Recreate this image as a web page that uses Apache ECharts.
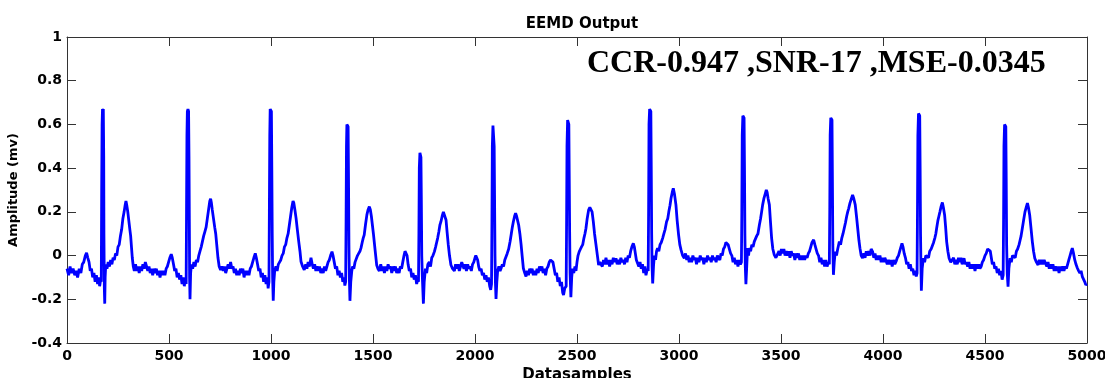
<!DOCTYPE html>
<html>
<head>
<meta charset="utf-8">
<script src="https://cdn.jsdelivr.net/npm/echarts@6/dist/echarts.min.js"></script>
<style>
html,body{margin:0;padding:0;background:#fff;}
#chart{width:1105px;height:378px;}
</style>
</head>
<body>
<div id="chart"></div>
<script>
// ---- Data (x = data sample index, y = amplitude in mV) ----
const chartTitle = "EEMD Output";
const xAxisName = "Datasamples";
const yAxisName = "Amplitude (mv)";
const annotation = "CCR-0.947 ,SNR-17 ,MSE-0.0345";
const xTicks = [0, 500, 1000, 1500, 2000, 2500, 3000, 3500, 4000, 4500, 5000];
const yTicks = [-0.4, -0.2, 0, 0.2, 0.4, 0.6, 0.8, 1];

const beat01 = [[0,-0.06],[8,-0.09],[15,-0.05],[22,-0.08],[30,-0.06],[38,-0.09],[45,-0.07],[52,-0.1],[60,-0.06],[68,-0.08],[75,-0.04],[82,-0.03],[90,0.0],[96,0.012],[102,-0.01],[108,-0.03],[114,-0.07],[120,-0.06],[126,-0.1],[132,-0.08],[138,-0.12],[144,-0.09],[150,-0.13],[156,-0.1],[160,-0.14],[165,-0.11],
[168,-0.12],[170,0.3],[172,0.6],[174,0.67],[176,0.66],[178,0.67],[180,0.45],[181,0.1],[183,-0.15],[185,-0.22],[187,-0.1],[190,-0.04],
[196,-0.06],[202,-0.03],[208,-0.05],[214,-0.02],[220,-0.04],[226,-0.01],[232,-0.02],[238,0.01],[244,0.0],[250,0.04],[256,0.05],[262,0.09],[268,0.12],[274,0.17],[280,0.2],[285,0.23],[289,0.25],[293,0.23],[298,0.2],[303,0.16],[308,0.12],[312,0.09],[316,0.04],[320,-0.01],[325,-0.05],[330,-0.07]];
const beat02 = [[336,-0.04],[342,-0.07],[348,-0.05],[354,-0.08],[360,-0.05],[366,-0.07],[372,-0.04],[378,-0.06],[384,-0.03],[390,-0.05],[396,-0.07],[402,-0.05],[408,-0.08],[414,-0.06],[420,-0.09],[426,-0.06],[432,-0.08],[438,-0.06],[444,-0.09],[450,-0.07],[456,-0.1],[462,-0.07],[468,-0.09],[474,-0.07],[480,-0.09],[486,-0.06],[492,-0.05],[498,-0.03],[504,-0.01],[511,0.006],[516,-0.01],[522,-0.04],[528,-0.07],[534,-0.06],[540,-0.1],[546,-0.08],[552,-0.11],[558,-0.09],[564,-0.13],[570,-0.1],[575,-0.14],[580,-0.11],[584,-0.13],
[586,0.2],[588,0.55],[590,0.66],[593,0.67],[596,0.66],[598,0.45],[600,0.1],[601,-0.1],[603,-0.2],[606,-0.08],[610,-0.04],
[616,-0.06],[622,-0.03],[628,-0.05],[634,-0.02],[640,-0.03],[646,0.0],[652,0.02],[658,0.04],[664,0.065],[670,0.09],[676,0.11],[682,0.13],[688,0.17],[694,0.21],[700,0.25],[704,0.26],[708,0.24],[712,0.21],[718,0.17],[724,0.13],[729,0.1],[734,0.05],[740,-0.01],[746,-0.05],[753,-0.066]];
const beat03 = [[760,-0.05],[766,-0.07],[772,-0.05],[778,-0.08],[784,-0.06],[790,-0.04],[796,-0.06],[802,-0.03],[808,-0.06],[814,-0.05],[820,-0.08],[826,-0.06],[832,-0.09],[838,-0.07],[844,-0.09],[850,-0.06],[856,-0.08],[862,-0.06],[868,-0.1],[874,-0.07],[880,-0.09],[886,-0.07],[892,-0.09],[898,-0.06],[904,-0.05],[910,-0.03],[916,-0.01],[923,0.01],[928,-0.01],[934,-0.04],[940,-0.07],[946,-0.06],[952,-0.1],[958,-0.08],[964,-0.12],[970,-0.09],[976,-0.13],[982,-0.1],[986,-0.15],[990,-0.12],
[992,0.2],[994,0.55],[996,0.67],[999,0.67],[1002,0.66],[1004,0.4],[1006,0.1],[1008,-0.1],[1011,-0.207],[1014,-0.12],[1018,-0.07],
[1024,-0.05],[1030,-0.07],[1036,-0.04],[1042,-0.03],[1048,-0.02],[1054,0.0],[1060,0.01],[1066,0.04],[1072,0.05],[1078,0.08],[1084,0.1],[1090,0.14],[1096,0.18],[1102,0.22],[1108,0.25],[1112,0.24],[1117,0.21],[1123,0.17],[1129,0.12],[1136,0.064],[1142,0.02],[1147,-0.027],[1155,-0.05],[1163,-0.066]];
const beat04 = [[1170,-0.04],[1176,-0.06],[1182,-0.03],[1188,-0.05],[1196,-0.01],[1202,-0.04],[1208,-0.06],[1214,-0.04],[1220,-0.07],[1226,-0.05],[1232,-0.07],[1238,-0.05],[1244,-0.08],[1250,-0.06],[1256,-0.08],[1262,-0.05],[1268,-0.07],[1274,-0.05],[1280,-0.03],[1286,-0.02],[1292,0.0],[1299,0.018],[1304,0.0],[1310,-0.03],[1316,-0.06],[1322,-0.05],[1328,-0.09],[1334,-0.07],[1340,-0.1],[1346,-0.08],[1352,-0.12],[1358,-0.1],[1362,-0.137],[1366,-0.12],
[1368,0.15],[1370,0.5],[1372,0.6],[1375,0.605],[1378,0.59],[1380,0.35],[1382,0.05],[1384,-0.1],[1387,-0.207],[1391,-0.12],[1396,-0.07],[1400,-0.05],
[1406,-0.06],[1412,-0.03],[1418,-0.03],[1424,0.0],[1430,0.01],[1436,0.02],[1441,0.034],[1447,0.06],[1452,0.08],[1457,0.095],[1463,0.14],[1470,0.186],[1476,0.21],[1482,0.224],[1487,0.21],[1492,0.18],[1497,0.14],[1502,0.1],[1506,0.064],[1512,0.01],[1518,-0.043],[1524,-0.06],[1531,-0.07]];
const beat05 = [[1538,-0.04],[1544,-0.07],[1550,-0.05],[1556,-0.08],[1562,-0.05],[1568,-0.07],[1574,-0.04],[1580,-0.06],[1586,-0.05],[1592,-0.08],[1598,-0.05],[1604,-0.07],[1610,-0.05],[1616,-0.08],[1622,-0.06],[1628,-0.08],[1634,-0.05],[1640,-0.06],[1646,-0.03],[1652,0.0],[1657,0.02],[1662,0.026],[1667,0.0],[1672,-0.04],[1678,-0.07],[1684,-0.06],[1690,-0.1],[1696,-0.08],[1702,-0.11],[1708,-0.09],[1714,-0.13],[1719,-0.11],[1723,-0.12],
[1725,0.1],[1727,0.4],[1730,0.47],[1733,0.476],[1735,0.45],[1737,0.25],[1739,0.0],[1742,-0.1],[1747,-0.22],[1751,-0.12],[1757,-0.06],
[1763,-0.08],[1769,-0.04],[1776,-0.03],[1782,-0.05],[1788,-0.01],[1794,0.0],[1801,0.018],[1807,0.04],[1812,0.06],[1817,0.08],[1823,0.11],[1828,0.14],[1833,0.155],[1839,0.18],[1845,0.2],[1851,0.2],[1858,0.163],[1863,0.11],[1869,0.05],[1875,0.0],[1882,-0.043],[1890,-0.06],[1899,-0.07]];
const beat06 = [[1905,-0.04],[1911,-0.06],[1917,-0.04],[1923,-0.07],[1929,-0.05],[1935,-0.03],[1940,-0.03],[1946,-0.06],[1952,-0.04],[1958,-0.07],[1964,-0.04],[1970,-0.06],[1976,-0.05],[1982,-0.07],[1988,-0.04],[1994,-0.03],[2000,-0.01],[2004,0.0],[2008,-0.005],[2013,-0.02],[2018,-0.05],[2024,-0.07],[2030,-0.06],[2036,-0.09],[2042,-0.08],[2048,-0.11],[2054,-0.09],[2060,-0.12],[2066,-0.1],[2072,-0.14],[2077,-0.157],[2081,-0.13],
[2083,0.15],[2085,0.5],[2088,0.595],[2091,0.59],[2094,0.5],[2096,0.25],[2098,0.0],[2100,-0.12],[2103,-0.198],[2107,-0.12],[2111,-0.07],
[2117,-0.05],[2123,-0.07],[2128,-0.058],[2134,-0.04],[2140,-0.05],[2146,-0.02],[2152,-0.012],[2158,0.01],[2165,0.03],[2172,0.064],[2178,0.1],[2183,0.13],[2188,0.155],[2194,0.18],[2199,0.194],[2204,0.18],[2209,0.16],[2214,0.14],[2220,0.1],[2226,0.05],[2231,0.0],[2237,-0.058],[2244,-0.08],[2250,-0.096]];
const beat07 = [[2256,-0.07],[2262,-0.09],[2268,-0.06],[2274,-0.08],[2280,-0.06],[2286,-0.09],[2292,-0.07],[2298,-0.09],[2304,-0.06],[2310,-0.08],[2316,-0.05],[2322,-0.07],[2328,-0.05],[2334,-0.08],[2340,-0.06],[2346,-0.09],[2352,-0.06],[2358,-0.05],[2364,-0.03],[2370,-0.02],[2376,-0.015],[2382,-0.03],[2388,-0.06],[2394,-0.09],[2400,-0.08],[2406,-0.12],[2412,-0.1],[2418,-0.14],[2424,-0.12],[2430,-0.17],[2434,-0.18],[2440,-0.15],[2447,-0.14],
[2449,0.15],[2451,0.5],[2454,0.62],[2457,0.624],[2460,0.6],[2462,0.35],[2464,0.1],[2466,-0.08],[2470,-0.19],[2474,-0.1],[2478,-0.06],
[2484,-0.08],[2490,-0.05],[2495,-0.07],[2500,-0.03],[2505,0.0],[2511,0.018],[2517,0.03],[2522,0.04],[2528,0.05],[2534,0.08],[2539,0.1],[2544,0.125],[2550,0.17],[2557,0.209],[2563,0.22],[2569,0.224],[2574,0.2],[2580,0.155],[2586,0.1],[2593,0.05],[2600,0.0],[2606,-0.043],[2612,-0.03],[2618,-0.027]];
const beat08 = [[2624,-0.05],[2630,-0.02],[2636,-0.04],[2642,-0.01],[2648,-0.04],[2654,-0.02],[2660,-0.05],[2666,-0.02],[2672,-0.04],[2678,-0.01],[2684,-0.03],[2691,-0.012],[2697,-0.04],[2703,-0.02],[2709,-0.04],[2715,-0.01],[2721,-0.03],[2727,-0.02],[2733,-0.04],[2739,-0.01],[2745,-0.03],[2751,0.0],[2757,-0.01],[2763,0.02],[2769,0.04],[2776,0.056],[2781,0.04],[2786,0.01],[2791,-0.02],[2797,-0.012],[2803,-0.05],[2809,-0.03],[2815,-0.06],[2821,-0.04],[2827,-0.08],[2833,-0.05],[2838,-0.09],[2845,-0.06],[2849,-0.07],
[2851,0.2],[2853,0.6],[2856,0.67],[2859,0.674],[2862,0.66],[2864,0.4],[2866,0.1],[2868,-0.05],[2871,-0.127],[2875,-0.05],[2879,0.0],
[2885,-0.02],[2890,0.02],[2895,0.034],[2901,0.02],[2907,0.05],[2913,0.06],[2920,0.08],[2926,0.1],[2932,0.12],[2939,0.155],[2945,0.17],[2950,0.2],[2956,0.23],[2961,0.262],[2967,0.29],[2972,0.308],[2978,0.28],[2985,0.232],[2991,0.16],[2998,0.095],[3004,0.05],[3010,0.026],[3018,0.0],[3026,-0.012]];
const beat09 = [[3032,0.01],[3038,-0.02],[3044,0.0],[3050,-0.03],[3056,-0.01],[3062,-0.03],[3068,0.0],[3074,-0.02],[3080,-0.01],[3086,-0.04],[3092,-0.01],[3098,-0.03],[3104,0.0],[3110,-0.02],[3116,-0.01],[3122,-0.04],[3128,-0.01],[3134,-0.03],[3140,0.0],[3146,-0.02],[3152,-0.01],[3158,-0.03],[3164,0.0],[3170,-0.02],[3176,-0.01],[3182,-0.03],[3188,0.0],[3194,-0.01],[3200,-0.02],[3206,0.01],[3212,0.0],[3218,0.03],[3224,0.04],[3230,0.06],[3235,0.067],[3241,0.05],[3247,0.03],[3253,0.01],[3259,0.0],[3265,-0.03],[3271,-0.01],[3277,-0.04],[3283,-0.02],[3289,-0.05],[3295,-0.02],[3301,-0.04],[3306,-0.03],
[3308,0.2],[3310,0.55],[3313,0.64],[3316,0.644],[3319,0.63],[3321,0.4],[3323,0.1],[3325,-0.05],[3328,-0.131],[3332,-0.05],[3336,0.034],
[3341,0.0],[3345,0.034],[3351,0.02],[3357,0.05],[3363,0.04],[3369,0.064],[3375,0.07],[3381,0.09],[3387,0.1],[3394,0.14],[3400,0.17],[3405,0.2],[3410,0.232],[3416,0.26],[3422,0.28],[3428,0.3],[3432,0.29],[3437,0.26],[3443,0.232],[3448,0.16],[3454,0.08],[3460,0.03],[3467,0.003],[3475,-0.01],[3484,-0.012]];
const beat10 = [[3490,0.02],[3496,0.0],[3502,0.03],[3508,0.01],[3514,0.03],[3520,0.0],[3526,0.02],[3532,0.0],[3538,0.02],[3544,-0.01],[3550,0.02],[3556,0.0],[3562,0.01],[3568,-0.02],[3574,0.01],[3580,-0.01],[3586,0.01],[3592,-0.02],[3598,0.0],[3604,-0.02],[3610,0.0],[3616,-0.02],[3622,0.0],[3628,-0.01],[3634,0.01],[3640,0.02],[3646,0.04],[3652,0.06],[3660,0.072],[3666,0.05],[3672,0.03],[3678,0.01],[3684,0.0],[3690,-0.03],[3696,-0.01],[3702,-0.04],[3708,-0.02],[3714,-0.05],[3720,-0.02],[3726,-0.05],[3732,-0.03],[3737,-0.04],
[3739,0.2],[3741,0.55],[3744,0.63],[3747,0.636],[3750,0.62],[3752,0.35],[3754,0.05],[3757,-0.088],[3761,-0.03],[3766,0.018],
[3772,0.0],[3778,0.03],[3786,0.064],[3792,0.05],[3798,0.08],[3804,0.1],[3810,0.125],[3816,0.15],[3822,0.18],[3827,0.2],[3832,0.216],[3838,0.24],[3845,0.26],[3851,0.277],[3857,0.26],[3864,0.232],[3870,0.18],[3876,0.125],[3882,0.07],[3887,0.034],[3893,0.0],[3900,-0.012]];
const beat11 = [[3906,0.01],[3912,-0.01],[3918,0.02],[3924,0.0],[3930,0.02],[3936,0.0],[3942,0.03],[3949,0.018],[3955,-0.01],[3961,0.01],[3967,-0.02],[3973,0.0],[3979,-0.02],[3985,0.0],[3991,-0.03],[3997,-0.01],[4003,-0.03],[4009,-0.01],[4015,-0.012],[4021,-0.04],[4027,-0.02],[4033,-0.04],[4039,-0.02],[4045,-0.05],[4051,-0.02],[4058,-0.04],[4064,-0.027],[4070,-0.01],[4076,0.0],[4082,0.02],[4088,0.04],[4093,0.056],[4098,0.04],[4104,0.01],[4110,-0.01],[4116,-0.04],[4122,-0.03],[4128,-0.06],[4134,-0.04],[4140,-0.07],[4146,-0.06],[4152,-0.09],[4158,-0.07],[4163,-0.096],[4167,-0.08],
[4169,0.2],[4171,0.55],[4174,0.65],[4177,0.651],[4180,0.64],[4182,0.4],[4184,0.1],[4186,-0.05],[4188,-0.161],[4192,-0.06],[4198,-0.012],
[4204,-0.03],[4210,0.0],[4217,0.003],[4223,-0.01],[4229,0.02],[4236,0.03],[4242,0.034],[4248,0.06],[4254,0.08],[4259,0.1],[4263,0.125],[4269,0.16],[4274,0.18],[4279,0.2],[4285,0.225],[4291,0.243],[4296,0.22],[4302,0.186],[4307,0.13],[4312,0.064],[4318,0.02],[4324,-0.012],[4332,-0.03],[4340,-0.035]];
const beat12 = [[4346,-0.01],[4352,-0.04],[4358,-0.02],[4364,-0.04],[4370,-0.01],[4376,-0.03],[4382,-0.01],[4388,-0.04],[4397,-0.012],[4403,-0.04],[4409,-0.03],[4415,-0.05],[4421,-0.03],[4427,-0.06],[4433,-0.04],[4439,-0.06],[4445,-0.04],[4451,-0.07],[4457,-0.04],[4463,-0.06],[4469,-0.04],[4475,-0.06],[4481,-0.05],[4487,-0.03],[4493,-0.02],[4500,0.0],[4506,0.01],[4513,0.03],[4520,0.038],[4526,0.02],[4531,-0.01],[4536,-0.04],[4542,-0.03],[4548,-0.06],[4554,-0.05],[4560,-0.08],[4566,-0.06],[4572,-0.09],[4578,-0.07],[4584,-0.11],[4589,-0.09],
[4591,0.15],[4593,0.5],[4596,0.6],[4599,0.608],[4602,0.59],[4604,0.35],[4606,0.05],[4609,-0.08],[4613,-0.142],[4617,-0.06],[4623,-0.012],
[4629,-0.03],[4635,0.0],[4642,0.003],[4648,-0.01],[4654,0.02],[4660,0.03],[4667,0.05],[4672,0.07],[4677,0.09],[4683,0.125],[4689,0.16],[4696,0.2],[4702,0.22],[4708,0.24],[4713,0.22],[4719,0.186],[4725,0.13],[4732,0.064],[4738,0.02],[4744,-0.012],[4752,-0.03],[4760,-0.043]];
const tail = [[4766,-0.02],[4772,-0.04],[4778,-0.02],[4784,-0.04],[4790,-0.02],[4797,-0.02],[4803,-0.05],[4809,-0.03],[4815,-0.06],[4821,-0.04],[4827,-0.06],[4833,-0.04],[4839,-0.07],[4845,-0.05],[4851,-0.07],[4857,-0.05],[4863,-0.08],[4869,-0.05],[4875,-0.07],[4881,-0.05],[4887,-0.07],[4893,-0.05],[4899,-0.06],[4905,-0.04],[4911,-0.02],[4917,0.0],[4923,0.02],[4928,0.034],[4934,0.01],[4940,-0.02],[4946,-0.04],[4953,-0.058],[4959,-0.07],[4965,-0.08],[4971,-0.07],[4977,-0.096],[4983,-0.1],[4989,-0.12],[4994,-0.134],[5000,-0.13]];

const signal = [].concat(beat01, beat02, beat03, beat04, beat05, beat06, beat07, beat08, beat09, beat10, beat11, beat12, tail);

// ---- Chart ----
const chart = echarts.init(document.getElementById('chart'), null, {renderer: 'canvas'});
const FONT = '"DejaVu Sans", Arial, sans-serif';
const frameColor = '#333333';
const xMin = xTicks[0], xMax = xTicks[xTicks.length - 1], xStep = xTicks[1] - xTicks[0];
const yMin = yTicks[0], yMax = yTicks[yTicks.length - 1], yStep = +(yTicks[1] - yTicks[0]).toFixed(6);

function axisCommon(extra) {
  return Object.assign({
    type: 'value',
    axisLine: {show: true, onZero: false, lineStyle: {color: frameColor, width: 1}},
    axisTick: {show: true, inside: true, length: 9, lineStyle: {color: frameColor, width: 1}},
    splitLine: {show: false}
  }, extra);
}

chart.setOption({
  animation: false,
  backgroundColor: '#ffffff',
  title: {
    text: chartTitle,
    left: 577, top: 12, textAlign: 'center',
    textStyle: {fontFamily: FONT, fontWeight: 'bold', fontSize: 15, color: '#000'}
  },
  grid: {left: 67, right: 18, top: 37, bottom: 35, containLabel: false, outerBoundsMode: 'none'},
  xAxis: [
    axisCommon({
      position: 'bottom', min: xMin, max: xMax, interval: xStep,
      name: xAxisName, nameLocation: 'middle', nameGap: 22,
      nameTextStyle: {fontFamily: FONT, fontWeight: 'bold', fontSize: 15, color: '#000'},
      axisLabel: {show: true, margin: 6, fontFamily: FONT, fontWeight: 'bold', fontSize: 14, color: '#000',
                  formatter: function (v) { return String(v); }}
    }),
    axisCommon({position: 'top', min: xMin, max: xMax, interval: xStep, axisLabel: {show: false}})
  ],
  yAxis: [
    axisCommon({
      position: 'left', min: yMin, max: yMax, interval: yStep,
      name: yAxisName, nameLocation: 'middle', nameGap: 37, nameRotate: 90,
      nameTextStyle: {fontFamily: FONT, fontWeight: 'bold', fontSize: 13, color: '#000'},
      axisLabel: {show: true, margin: 5, fontFamily: FONT, fontWeight: 'bold', fontSize: 14, color: '#000',
                  formatter: function (v) { return String(+v.toFixed(2)); }}
    }),
    axisCommon({position: 'right', min: yMin, max: yMax, interval: yStep, axisLabel: {show: false}})
  ],
  graphic: [{
    type: 'text',
    left: 587, top: 48,
    style: {
      text: annotation,
      font: 'bold 32px "Liberation Serif", "Times New Roman", serif',
      fill: '#000'
    }
  }],
  series: [{
    type: 'line',
    data: signal,
    xAxisIndex: 0, yAxisIndex: 0,
    showSymbol: false,
    symbol: 'none',
    lineStyle: {color: '#0000ff', width: 2.8},
    itemStyle: {color: '#0000ff'},
    clip: true
  }]
});
</script>
</body>
</html>
